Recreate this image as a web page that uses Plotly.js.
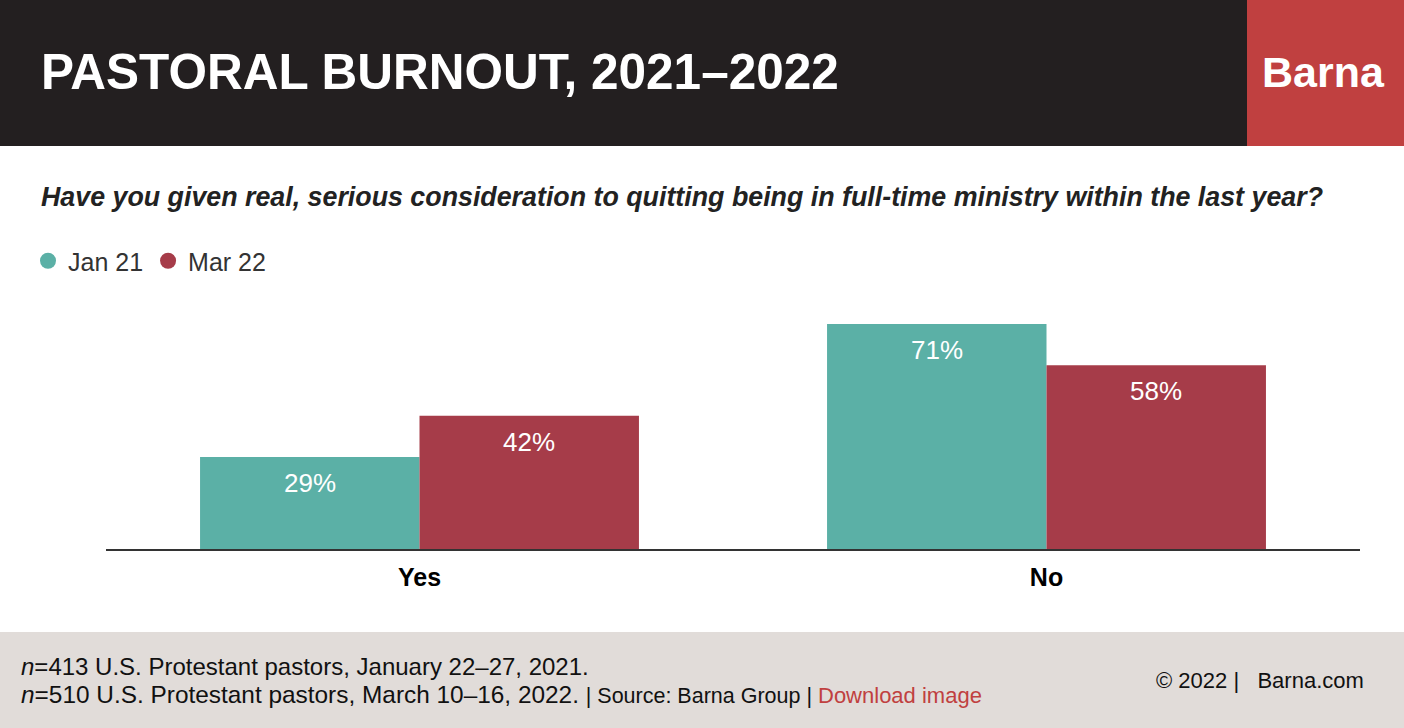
<!DOCTYPE html>
<html>
<head>
<meta charset="utf-8">
<script src="https://cdn.plot.ly/plotly-3.0.1.min.js"></script>
<style>
html,body{margin:0;padding:0;background:#fff;}
#chart{width:1404px;height:728px;}
</style>
</head>
<body>
<div id="chart"></div>
<script>
// ---- data ----
const categories = ["Yes", "No"];
const seriesNames = ["Jan 21", "Mar 22"];
const jan21 = [29, 71];
const mar22 = [42, 58];
const colors = ["#5bb0a6", "#a63c49"];

// ---- layout geometry (pixels) ----
const W = 1404, H = 728;
const L = 106, R = 44, T = 232, B = 179;
const pw = W - L - R, ph = H - T - B;
const px = x => (x - L) / pw;          // pixel x -> paper
const py = y => (H - B - y) / ph;      // pixel y -> paper
const FONT = "Liberation Sans, Arial, Helvetica, sans-serif";
const bargap = 0.3;
const catPx = pw / categories.length;
const off = (1 - bargap) * catPx / 4;

const traces = [
  {type: "bar", name: seriesNames[0], x: categories, y: jan21, marker: {color: colors[0]}, showlegend: false, hoverinfo: "skip"},
  {type: "bar", name: seriesNames[1], x: categories, y: mar22, marker: {color: colors[1]}, showlegend: false, hoverinfo: "skip"},
  {type: "scatter", mode: "markers", name: seriesNames[0], x: [null], y: [null], marker: {color: colors[0], size: 20}},
  {type: "scatter", mode: "markers", name: seriesNames[1], x: [null], y: [null], marker: {color: colors[1], size: 20}}
];

const annotations = [];
[jan21, mar22].forEach((vals, si) => {
  vals.forEach((v, i) => {
    annotations.push({
      x: categories[i], y: v, xref: "x", yref: "y",
      xshift: si === 0 ? -off : off, yshift: -26,
      text: v + "%", showarrow: false,
      font: {family: FONT, size: 26, color: "#ffffff"},
      xanchor: "center", yanchor: "middle"
    });
  });
});

annotations.push(
  {xref: "paper", yref: "paper", x: px(39), y: py(71), xanchor: "left", yanchor: "middle",
   text: "<b>PASTORAL BURNOUT, 2021–2022</b>", showarrow: false,
   font: {family: FONT, size: 49.5, color: "#ffffff"}},
  {xref: "paper", yref: "paper", x: px(1323), y: py(72), xanchor: "center", yanchor: "middle",
   text: "<b>Barna</b>", showarrow: false,
   font: {family: FONT, size: 43, color: "#ffffff"}},
  {xref: "paper", yref: "paper", x: px(39), y: py(197), xanchor: "left", yanchor: "middle",
   text: "<b><i>Have you given real, serious consideration to quitting being in full-time ministry within the last year?</i></b>",
   showarrow: false, font: {family: FONT, size: 26.8, color: "#222222"}},
  {xref: "paper", yref: "paper", x: px(19), y: py(666), xanchor: "left", yanchor: "middle",
   text: "<i>n</i>=413 U.S. Protestant pastors, January 22–27, 2021.", showarrow: false,
   font: {family: FONT, size: 24, color: "#111111"}},
  {xref: "paper", yref: "paper", x: px(19), y: py(694), xanchor: "left", yanchor: "middle",
   text: "<i>n</i>=510 U.S. Protestant pastors, March 10–16, 2022. <span style=\"font-size:21.5px\">| Source: Barna Group | </span><span style=\"color:#c0403f;font-size:22px\">Download image</span>",
   showarrow: false, font: {family: FONT, size: 24.4, color: "#111111"}},
  {xref: "paper", yref: "paper", x: px(1366), y: py(680), xanchor: "right", yanchor: "middle",
   text: "© 2022 |   Barna.com", showarrow: false,
   font: {family: FONT, size: 22, color: "#111111"}}
);

const shapes = [
  {type: "rect", xref: "paper", yref: "paper", x0: px(0), x1: px(W), y0: py(0), y1: py(146),
   fillcolor: "#231f20", line: {width: 0}, layer: "below"},
  {type: "rect", xref: "paper", yref: "paper", x0: px(1247), x1: px(W), y0: py(0), y1: py(146),
   fillcolor: "#c04040", line: {width: 0}, layer: "below"},
  {type: "rect", xref: "paper", yref: "paper", x0: px(0), x1: px(W), y0: py(632), y1: py(H),
   fillcolor: "#e1dcd9", line: {width: 0}, layer: "below"}
];

const layout = {
  width: W, height: H,
  margin: {l: L, r: R, t: T, b: B, pad: 0},
  paper_bgcolor: "#ffffff", plot_bgcolor: "rgba(0,0,0,0)",
  barmode: "group", bargap: bargap, bargroupgap: 0,
  showlegend: true,
  legend: {orientation: "h", x: px(28), y: py(261), xanchor: "left", yanchor: "middle",
           font: {family: FONT, size: 25, color: "#333333"}, bgcolor: "rgba(0,0,0,0)",
           itemclick: false, itemdoubleclick: false, traceorder: "normal"},
  xaxis: {type: "category", range: [-0.5, 1.5], showgrid: false, zeroline: false,
          showline: true, linecolor: "#333333", linewidth: 2,
          ticks: "outside", ticklen: 5, tickcolor: "rgba(0,0,0,0)",
          tickfont: {family: FONT, size: 25, color: "#000000"},
          tickprefix: "<b>", ticksuffix: "</b>", fixedrange: true},
  yaxis: {range: [0, 100], showgrid: false, zeroline: false, showline: false,
          showticklabels: false, ticks: "", fixedrange: true},
  annotations: annotations,
  shapes: shapes
};

Plotly.newPlot("chart", traces, layout, {displayModeBar: false, staticPlot: true});
</script>
</body>
</html>
